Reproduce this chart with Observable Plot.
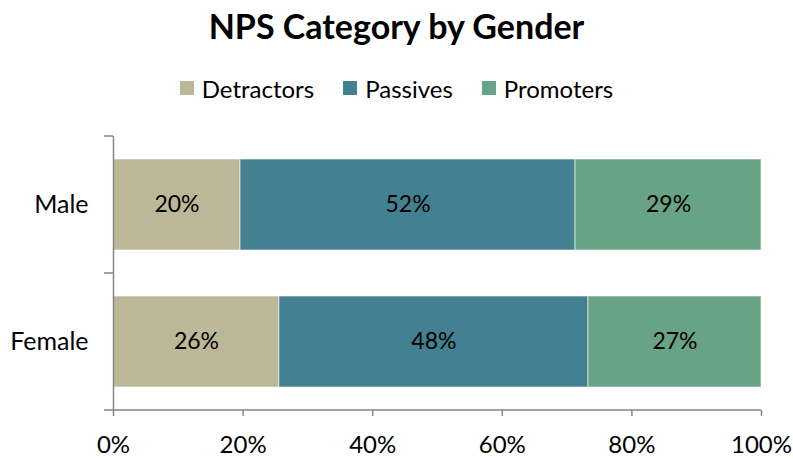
<!DOCTYPE html>
<html>
<head>
<meta charset="utf-8">
<script src="https://cdn.jsdelivr.net/npm/d3@7"></script>
<script src="https://cdn.jsdelivr.net/npm/@observablehq/plot@0.6"></script>
<style>
  html, body { margin: 0; padding: 0; background: #fff; }
  body { width: 793px; height: 459px; overflow: hidden; font-family: Lato, "Open Sans", sans-serif; }
  #title { height: 50px; display: flex; align-items: center; justify-content: center; font-weight: bold; font-size: 34px; color: #000; box-sizing: border-box; }
  #legend { height: 60px; display: flex; align-items: center; justify-content: center; font-size: 24px; color: #000; gap: 29px; box-sizing: border-box; padding-top: 16px; }
  .item { display: flex; align-items: center; }
  .sw { width: 14px; height: 14px; margin-right: 8px; display: inline-block; }
  #chart svg { display: block; }
</style>
</head>
<body>
<div id="title">NPS Category by Gender</div>
<div id="legend"></div>
<div id="chart"></div>
<script>
const categories = ["Male", "Female"];
const series = ["Detractors", "Passives", "Promoters"];
const maleValues = [19.6, 51.7, 28.7];
const femaleValues = [25.6, 47.7, 26.7];
const colors = ["#BCB897", "#438091", "#68A386"];
const xTicks = [0, 20, 40, 60, 80, 100];

const valuesByCategory = {Male: maleValues, Female: femaleValues};
const data = [];
for (const c of categories) {
  series.forEach((s, i) => data.push({gender: c, series: s, value: valuesByCategory[c][i]}));
}

// legend
const legend = document.getElementById("legend");
series.forEach((s, i) => {
  const it = document.createElement("div");
  it.className = "item";
  it.innerHTML = `<span class="sw" style="background:${colors[i]}"></span><span>${s}</span>`;
  legend.appendChild(it);
});

const axisColor = "#868686";
const plot = Plot.plot({
  width: 793,
  height: 349,
  marginTop: 26,
  marginBottom: 49,
  marginLeft: 113,
  marginRight: 32,
  style: {fontFamily: "Lato, 'Open Sans', sans-serif", fontSize: "24px", color: "#000", background: "#fff"},
  x: {domain: [0, 100], ticks: xTicks},
  y: {domain: categories, paddingInner: 0.336, paddingOuter: 0.168},
  color: {domain: series, range: colors},
  marks: [
    Plot.barX(data, Plot.stackX({x: "value", y: "gender", fill: "series", stroke: "#fff", strokeWidth: 1, strokeOpacity: 0.6})),
    Plot.text(data, Plot.stackX({x: "value", y: "gender", z: "series", text: d => Math.round(d.value) + "%", fill: "#000", fontSize: 23})),
    Plot.axisX({ticks: xTicks, tickFormat: d => d + "%", tickSize: 6, tickPadding: 19, stroke: axisColor, strokeWidth: 1.5, strokeOpacity: 1, fill: "#000", fontSize: 24, label: null}),
    Plot.axisY({tickSize: 0, tickPadding: 25, fill: "#000", fontSize: 25, label: null}),
    Plot.ruleX([0], {stroke: axisColor, strokeWidth: 1.5})
  ]
});
document.getElementById("chart").appendChild(plot);

// category boundary ticks and x axis line, using the plot's own scales
const x = plot.scale("x"), y = plot.scale("y");
const svg = d3.select(plot);
const x0 = x.apply(0), x1 = x.apply(100);
const step = y.step;
const yStart = y.apply(categories[0]) - step * y.paddingInner / 2;
const bounds = d3.range(categories.length + 1).map(i => yStart + i * step);
const g = svg.append("g").attr("stroke", axisColor).attr("stroke-width", 1.5);
bounds.forEach(b => {
  g.append("line").attr("x1", x0 - 9).attr("x2", x0).attr("y1", b).attr("y2", b);
});
const yb = bounds[bounds.length - 1];
g.append("line").attr("x1", x0).attr("x2", x1).attr("y1", yb).attr("y2", yb);
</script>
</body>
</html>
